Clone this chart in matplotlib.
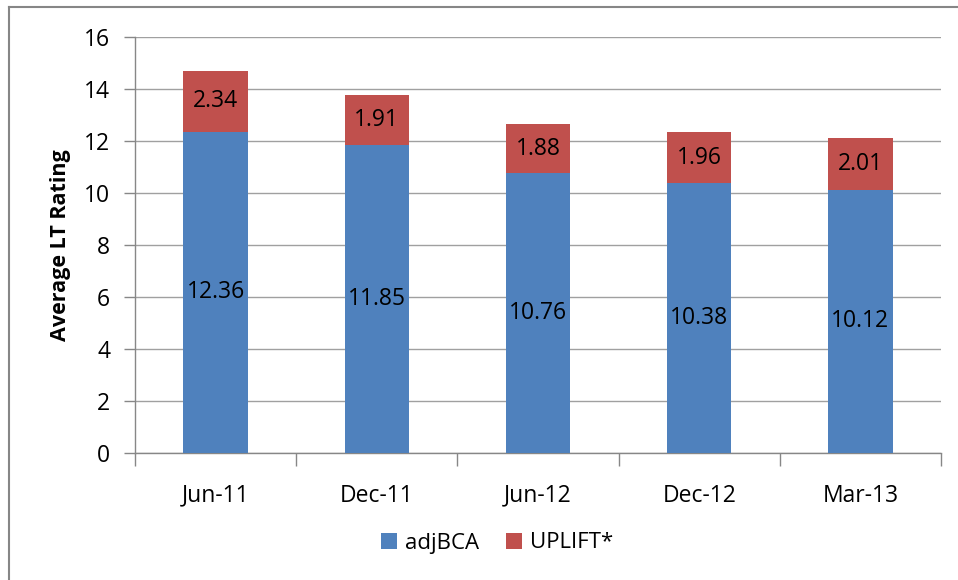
import matplotlib
matplotlib.use("Agg")
import matplotlib.pyplot as plt
from matplotlib.lines import Line2D
import numpy as np

categories = ["Jun-11", "Dec-11", "Jun-12", "Dec-12", "Mar-13"]
adjbca = [12.36, 11.85, 10.76, 10.38, 10.12]
uplift = [2.34, 1.91, 1.88, 1.96, 2.01]
yticks = [0, 2, 4, 6, 8, 10, 12, 14, 16]

plt.rcParams['font.family'] = ['Open Sans', 'DejaVu Sans']

W, H = 958, 580
fig = plt.figure(figsize=(W/100, H/100), dpi=100)
ax = fig.add_axes([135/W, 1 - 453/H, (941-135)/W, (453-37)/H])

blue = "#4F81BD"
red = "#C0504D"
x = np.arange(len(categories))
b1 = ax.bar(x, adjbca, width=0.4, color=blue, label="adjBCA", zorder=3)
b2 = ax.bar(x, uplift, width=0.4, bottom=adjbca, color=red, label="UPLIFT*", zorder=3)

for xi, a, u in zip(x, adjbca, uplift):
    ax.text(xi, a / 2, f"{a:.2f}", ha="center", va="center", fontsize=16.5, color="black", zorder=4)
    ax.text(xi, a + u / 2, f"{u:.2f}", ha="center", va="center", fontsize=16.5, color="black", zorder=4)

ax.set_xlim(-0.5, len(categories) - 0.5)
ax.set_ylim(0, 16)
ax.set_yticks(yticks)
ax.set_yticklabels([str(t) for t in yticks], fontsize=16.5)
ax.yaxis.grid(True, color="#A0A0A0", linewidth=1, zorder=0)
ax.set_axisbelow(True)

ax.set_xticks(np.arange(len(categories) + 1) - 0.5, minor=False)
ax.set_xticklabels([])
ax.set_xticks(x, minor=True)
ax.set_xticklabels(categories, minor=True, fontsize=16.5)
ax.tick_params(axis="x", which="major", length=9, color="#878787", width=1)
ax.tick_params(axis="x", which="minor", length=0, pad=22)
ax.tick_params(axis="y", length=8, color="#878787", width=1, pad=10)

for s in ["top", "right"]:
    ax.spines[s].set_visible(False)
for s in ["left", "bottom"]:
    ax.spines[s].set_color("#878787")
    ax.spines[s].set_linewidth(1)

ax.set_ylabel("Average LT Rating", fontsize=15.5, fontweight="bold")
ax.yaxis.set_label_coords(-(135-71)/(941-135), 0.5)

leg = fig.legend(handles=[b1, b2], labels=["adjBCA", "UPLIFT*"], loc="center",
                 bbox_to_anchor=(497/W, 1 - 543/H), ncol=2, frameon=False,
                 fontsize=16, handlelength=0.75, handleheight=0.75, columnspacing=1.2,
                 handletextpad=0.35)

fig.add_artist(Line2D([9/W, 9/W], [0, 1 - 7/H], color="#868686", linewidth=1.5, transform=fig.transFigure))
fig.add_artist(Line2D([9/W, 1], [1 - 7/H, 1 - 7/H], color="#868686", linewidth=1.5, transform=fig.transFigure))

fig.savefig("out.png", dpi=100)
